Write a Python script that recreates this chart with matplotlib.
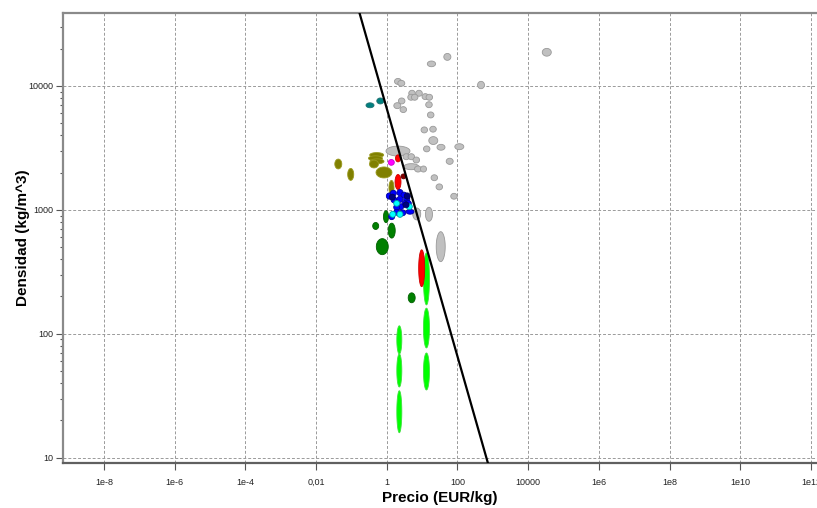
import numpy as np
import matplotlib
matplotlib.use("Agg")
import matplotlib.pyplot as plt

# ================================
# Data: price range (EUR/kg) and density range (kg/m^3) per material
# ================================
gray_price_lo = [25000, 41, 14, 370, 1.65, 2.05, 4.18, 6.59, 9.93, 12.9, 3.92, 4.98, 2.13, 1.58, 2.37,
                 12.6, 14.1, 9.31, 16.4, 15.4, 10.9, 26.3, 84, 47.9, 17.9, 24.7, 64.4, 0.95, 2.88, 3.99,
                 5.53, 3.03, 6.08, 8.97, 5.41, 12.4, 25.0]
gray_price_hi = [45000, 65, 24, 580, 2.6, 3.23, 6.38, 10.1, 15.2, 19.7, 5.98, 7.60, 3.26, 2.49, 3.62,
                 19.3, 21.6, 14.2, 25.1, 27.7, 16.6, 44.3, 151, 75.5, 27.3, 37.8, 98.4, 4.53, 4.41, 6.10,
                 8.45, 8.04, 9.59, 13.3, 9.10, 19.6, 44.9]
gray_dens_lo = [17400, 16100, 14300, 9500, 10300, 9950, 8260, 8260, 7760, 7670, 7670, 7670, 7160, 6560, 6100,
                6680, 5520, 4180, 4240, 3370, 2940, 3030, 3060, 2330, 1720, 1450, 1220, 2720, 2540, 2540,
                2390, 2110, 2020, 2020, 830, 809, 382]
gray_dens_hi = [20100, 18300, 15900, 10900, 11500, 11100, 9230, 9230, 8670, 8570, 8570, 8570, 8000, 7330, 6810,
                7460, 6170, 4670, 4730, 3900, 3280, 3380, 3420, 2610, 1920, 1620, 1360, 3270, 2840, 2840,
                2670, 2360, 2260, 2260, 1035, 1049, 667]

teal_price_lo = [0.258, 0.521]
teal_price_hi = [0.435, 0.822]
teal_dens_lo = [6670, 7160]
teal_dens_hi = [7310, 8000]

olive_price_lo = [0.0338, 0.0783, 0.495, 0.328, 0.303, 0.335, 0.324, 1.15]
olive_price_hi = [0.0533, 0.116, 1.40, 0.817, 0.755, 0.834, 0.582, 1.60]
olive_dens_lo = [2140, 1730, 1810, 2650, 2490, 2350, 2180, 1310]
olive_dens_hi = [2570, 2160, 2220, 2900, 2730, 2580, 2520, 1730]

magenta_price_lo = [1.10]
magenta_price_hi = [1.63]
magenta_dens_lo = [2290]
magenta_dens_hi = [2550]

green_price_lo = [10.9, 10.9, 10.9, 1.92, 1.92, 1.92]
green_price_hi = [16.1, 16.1, 16.1, 2.66, 2.66, 2.66]
green_dens_lo = [171, 76.9, 35.2, 68.7, 37.2, 15.9]
green_dens_hi = [449, 161, 70.0, 116, 68.7, 34.7]

red_price_lo = [1.76, 1.71, 7.98]
red_price_hi = [2.44, 2.52, 11.8]
red_dens_lo = [2440, 1460, 240]
red_dens_hi = [2780, 1930, 476]

darkred_price_lo = [2.52]
darkred_price_hi = [3.49]
darkred_dens_lo = [1780]
darkred_dens_hi = [1950]

dkgreen_price_lo = [0.805, 0.399, 1.10, 0.505, 4.03]
dkgreen_price_hi = [1.12, 0.590, 1.73, 1.10, 6.35]
dkgreen_dens_lo = [789, 695, 592, 435, 178]
dkgreen_dens_hi = [984, 791, 781, 586, 214]

blue_price_lo = [0.97, 1.26, 1.94, 2.52, 1.32, 1.94, 3.01, 2.69, 3.33, 2.03, 1.57, 2.32, 1.57, 1.13, 3.49]
blue_price_hi = [1.43, 1.86, 2.87, 3.73, 1.95, 2.87, 4.45, 3.98, 4.93, 3.01, 2.32, 3.43, 2.32, 1.67, 5.87]
blue_dens_lo = [1220, 1290, 1300, 1250, 1140, 1150, 1150, 1070, 1070, 1005, 993, 897, 906, 834, 923]
blue_dens_hi = [1370, 1440, 1460, 1390, 1270, 1290, 1290, 1190, 1190, 1120, 1110, 1000, 1010, 931, 1010]

cyan_price_lo = [1.57, 3.56, 1.21, 1.94]
cyan_price_hi = [2.32, 5.27, 1.79, 2.87]
cyan_dens_lo = [1070, 1005, 871, 871]
cyan_dens_hi = [1190, 1120, 973, 973]

navy_price_lo = [1.18, 3.13, 2.87]
navy_price_hi = [1.74, 4.62, 4.25]
navy_dens_lo = [1200, 1220, 1040]
navy_dens_hi = [1340, 1370, 1160]

# selection line: density * price = const
line_const = 6560

x_ticks = [1e-8, 1e-6, 1e-4, 1e-2, 1, 100, 1e4, 1e6, 1e8, 1e10, 1e12]
x_tick_labels = ['1e-8', '1e-6', '1e-4', '0,01', '1', '100', '10000', '1e6', '1e8', '1e10', '1e12']
y_ticks = [10, 100, 1000, 10000]
y_tick_labels = ['10', '100', '1000', '10000']

# ================================
# Figure
# ================================
plt.rcParams['font.family'] = ['Liberation Sans', 'DejaVu Sans']
fig = plt.figure(figsize=(8.17, 5.08), dpi=100)
ax = fig.add_axes([63 / 817, 45 / 508, 754 / 817, 450 / 508])
ax.set_xscale('log')
ax.set_yscale('log')
ax.set_xlim(10 ** -9.16, 10 ** 12.17)
ax.set_ylim(9.06, 38800)


def draw_bubbles(plo, phi, dlo, dhi, face, edge):
    # ellipse inscribed in the range box, in log space
    t = np.linspace(0, 2 * np.pi, 80)
    for a, b, c, d in zip(plo, phi, dlo, dhi):
        lx0, lx1 = np.log10(a), np.log10(b)
        ly0, ly1 = np.log10(c), np.log10(d)
        xs = 10 ** ((lx0 + lx1) / 2 + (lx1 - lx0) / 2 * np.cos(t))
        ys = 10 ** ((ly0 + ly1) / 2 + (ly1 - ly0) / 2 * np.sin(t))
        ax.fill(xs, ys, facecolor=face, edgecolor=edge, linewidth=0.6, zorder=3)


draw_bubbles(gray_price_lo, gray_price_hi, gray_dens_lo, gray_dens_hi, '#c0c0c0', '#999999')
draw_bubbles(teal_price_lo, teal_price_hi, teal_dens_lo, teal_dens_hi, '#008080', '#207070')
draw_bubbles(olive_price_lo, olive_price_hi, olive_dens_lo, olive_dens_hi, '#808000', '#9a9a20')
draw_bubbles(magenta_price_lo, magenta_price_hi, magenta_dens_lo, magenta_dens_hi, '#ff00ff', '#cc00cc')
draw_bubbles(green_price_lo, green_price_hi, green_dens_lo, green_dens_hi, '#00ff00', '#40e040')
draw_bubbles(red_price_lo, red_price_hi, red_dens_lo, red_dens_hi, '#ff0000', '#cc0000')
draw_bubbles(darkred_price_lo, darkred_price_hi, darkred_dens_lo, darkred_dens_hi, '#800000', '#600000')
draw_bubbles(dkgreen_price_lo, dkgreen_price_hi, dkgreen_dens_lo, dkgreen_dens_hi, '#008000', '#006000')
draw_bubbles(blue_price_lo, blue_price_hi, blue_dens_lo, blue_dens_hi, '#0000ff', '#0000a0')
draw_bubbles(cyan_price_lo, cyan_price_hi, cyan_dens_lo, cyan_dens_hi, '#00ffff', '#00a0a0')
draw_bubbles(navy_price_lo, navy_price_hi, navy_dens_lo, navy_dens_hi, '#000080', '#000060')

lx = np.array([1e-2, 1e4])
ax.plot(lx, line_const / lx, color='black', linewidth=1.6, zorder=5)

# ================================
# Axes styling
# ================================
ax.set_xticks(x_ticks)
ax.set_xticklabels(x_tick_labels)
ax.xaxis.set_minor_locator(matplotlib.ticker.NullLocator())
ax.set_yticks(y_ticks)
ax.set_yticklabels(y_tick_labels)
ax.yaxis.set_minor_locator(matplotlib.ticker.LogLocator(base=10, subs=np.arange(2, 10)))
ax.yaxis.set_minor_formatter(matplotlib.ticker.NullFormatter())

ax.tick_params(axis='both', which='major', labelsize=6.5, length=5, width=0.8,
               color='#555555', labelcolor='#222222', pad=2)
ax.tick_params(axis='y', which='minor', length=2.5, width=0.8, color='#555555')
ax.tick_params(axis='x', which='major', pad=6)

ax.grid(True, which='major', linestyle=(0, (3, 2)), color='#9a9a9a', linewidth=0.7)
ax.set_axisbelow(True)

for side in ['top', 'left']:
    ax.spines[side].set_color('#8a8a8a')
    ax.spines[side].set_linewidth(1.6)
ax.spines['bottom'].set_color('#606060')
ax.spines['bottom'].set_linewidth(1.6)
ax.spines['right'].set_visible(False)

ax.set_xlabel('Precio (EUR/kg)', fontsize=11, fontweight='bold', labelpad=3)
ax.set_ylabel('Densidad (kg/m^3)', fontsize=11, fontweight='bold', labelpad=-1)

fig.savefig('out.png', dpi=100)
